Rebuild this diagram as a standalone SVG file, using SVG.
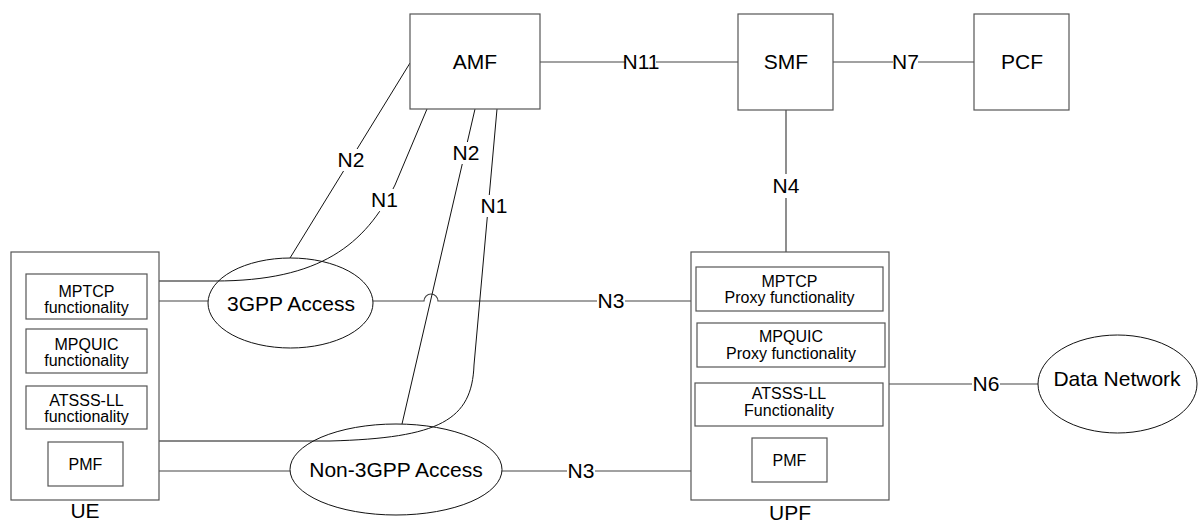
<svg xmlns="http://www.w3.org/2000/svg" width="1203" height="523" viewBox="0 0 1203 523">
<style>
text{font-family:"Liberation Sans",Arial,sans-serif;fill:#000;text-anchor:middle}
.big{font-size:21px}
.sm{font-size:16px}
.box{fill:#fff;stroke:#555;stroke-width:1.2}
.ell{fill:none;stroke:#111;stroke-width:1}
.ln{fill:none;stroke:#444;stroke-width:1.2}
.cv{fill:none;stroke:#111;stroke-width:1}
.lb{fill:#fff;stroke:none}
</style>
<rect width="1203" height="523" fill="#fff"/>
<g id="connectors">
<path class="ln" d="M540,62H738"/>
<path class="ln" d="M833,62H974"/>
<path class="ln" d="M786,110V252"/>
<path class="ln" d="M889,384H1038"/>
<path class="ln" d="M502,471H691"/>
<path class="ln" d="M373,301H424A7,7 0 0 1 438,301H691"/>
<path class="ln" d="M159,301H208"/>
<path class="ln" d="M159,471H290"/>
<path class="cv" d="M410,63L290,258"/>
<path class="cv" d="M475,109L402,424"/>
<path class="cv" d="M159,281H215C320,281 365,245 395,185L427,109"/>
<path class="cv" d="M159,441H330C440,438 472,420 474,365L497,109"/>
<rect class="lb" x="626" y="50" width="30" height="24"/><text class="big" x="641" y="69">N11</text>
<rect class="lb" x="893" y="50" width="25" height="24"/><text class="big" x="905.5" y="69">N7</text>
<rect class="lb" x="772" y="174" width="28" height="24"/><text class="big" x="786" y="193">N4</text>
<rect class="lb" x="337" y="149" width="28" height="22"/><text class="big" x="351" y="167">N2</text>
<rect class="lb" x="371" y="189" width="27" height="22"/><text class="big" x="384.5" y="207">N1</text>
<rect class="lb" x="453" y="142" width="27" height="22"/><text class="big" x="466" y="160">N2</text>
<rect class="lb" x="481" y="195" width="27" height="22"/><text class="big" x="494" y="213">N1</text>
<rect class="lb" x="597" y="291" width="28" height="22"/><text class="big" x="611" y="308">N3</text>
<rect class="lb" x="567" y="461" width="28" height="22"/><text class="big" x="581" y="478">N3</text>
<rect class="lb" x="972" y="374" width="28" height="22"/><text class="big" x="986" y="391">N6</text>
</g>
<g id="amf"><rect class="box" x="410" y="14" width="130" height="95"/><text class="big" x="475" y="69">AMF</text></g>
<g id="smf"><rect class="box" x="738" y="14" width="95" height="96"/><text class="big" x="786" y="69">SMF</text></g>
<g id="pcf"><rect class="box" x="974" y="14" width="95" height="96"/><text class="big" x="1022" y="69">PCF</text></g>
<g id="ue">
<rect class="box" x="11" y="252" width="148" height="248" style="fill:none"/>
<rect class="box" x="26" y="274" width="121" height="45"/><text class="sm" x="86.5" y="297">MPTCP</text><text class="sm" x="86.5" y="313">functionality</text>
<rect class="box" x="26" y="329" width="121" height="44"/><text class="sm" x="86.5" y="350">MPQUIC</text><text class="sm" x="86.5" y="366">functionality</text>
<rect class="box" x="26" y="386" width="121" height="43"/><text class="sm" x="86.5" y="406">ATSSS-LL</text><text class="sm" x="86.5" y="422">functionality</text>
<rect class="box" x="48" y="442" width="75" height="44"/><text class="sm" x="85.5" y="470">PMF</text>
<text class="big" x="85" y="518">UE</text>
</g>
<g id="upf">
<rect class="box" x="691" y="252" width="198" height="248" style="fill:none"/>
<rect class="box" x="696" y="267" width="187" height="44"/><text class="sm" x="789.5" y="287">MPTCP</text><text class="sm" x="789.5" y="303">Proxy functionality</text>
<rect class="box" x="697" y="323" width="188" height="44"/><text class="sm" x="791" y="342">MPQUIC</text><text class="sm" x="791" y="359">Proxy functionality</text>
<rect class="box" x="695" y="383" width="188" height="43"/><text class="sm" x="789" y="399">ATSSS-LL</text><text class="sm" x="789" y="416">Functionality</text>
<rect class="box" x="752" y="438" width="75" height="44"/><text class="sm" x="789.5" y="466">PMF</text>
<text class="big" x="790" y="520">UPF</text>
</g>
<g id="access3gpp"><ellipse class="ell" cx="290.5" cy="303" rx="82.5" ry="45"/><text class="big" x="291" y="311">3GPP Access</text></g>
<g id="accessnon3gpp"><ellipse class="ell" cx="396" cy="469.5" rx="106" ry="45.5"/><text class="big" x="396" y="477">Non-3GPP Access</text></g>
<g id="dn"><ellipse class="ell" cx="1117.5" cy="384" rx="79.5" ry="49"/><text class="big" x="1117" y="386">Data Network</text></g>
</svg>
